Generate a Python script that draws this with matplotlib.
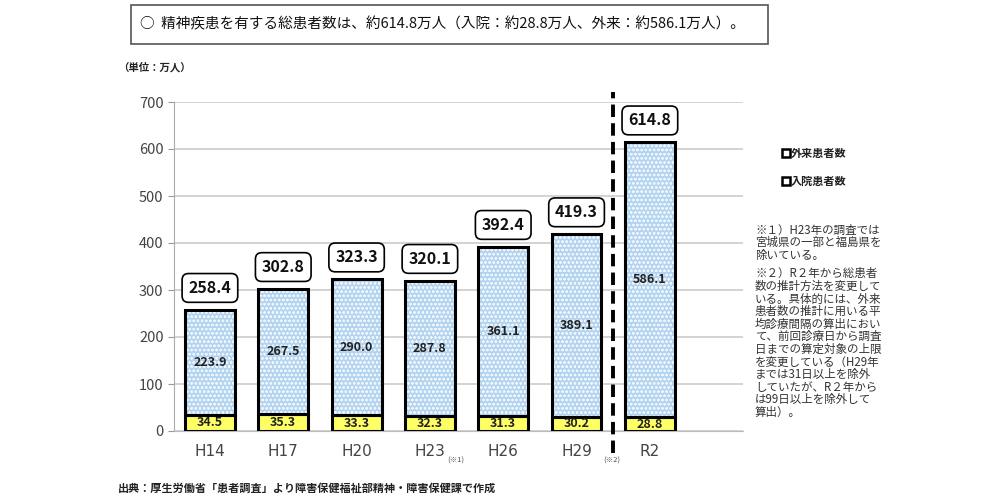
import numpy as np
import matplotlib
matplotlib.use('Agg')
from matplotlib import pyplot as plt
from matplotlib.patches import Rectangle

plt.rcParams['font.family'] = ['Noto Sans CJK JP', 'DejaVu Sans']
plt.rcParams['hatch.linewidth'] = 0.6

years = ['H14', 'H17', 'H20', 'H23', 'H26', 'H29', 'R2']
inpatient = [34.5, 35.3, 33.3, 32.3, 31.3, 30.2, 28.8]
outpatient = [223.9, 267.5, 290.0, 287.8, 361.1, 389.1, 586.1]
totals = [258.4, 302.8, 323.3, 320.1, 392.4, 419.3, 614.8]

title = '○  精神疾患を有する総患者数は、約614.8万人（入院：約28.8万人、外来：約586.1万人）。'
unit = '（単位：万人）'
source = '出典：厚生労働省「患者調査」より障害保健福祉部精神・障害保健課で作成'
notes = ['※１）H23年の調査では', '宮城県の一部と福島県を', '除いている。', '',
         '※２）R２年から総患者', '数の推計方法を変更して', 'いる。具体的には、外来',
         '患者数の推計に用いる平', '均診療間隔の算出におい', 'て、前回診療日から調査',
         '日までの算定対象の上限', 'を変更している（H29年', 'までは31日以上を除外',
         'していたが、R２年から', 'は99日以上を除外して', '算出）。']

x = np.arange(len(years), dtype=float)
w = 0.68

fig = plt.figure(figsize=(10, 5), dpi=100)
ax = fig.add_axes([0.174, 0.138, 0.569, 0.658])

# yellow inpatient part
ax.bar(x, inpatient, w, color='#ffff66', edgecolor='black', linewidth=2.2, zorder=3)
# patterned outpatient part
ax.bar(x, outpatient, w, bottom=inpatient, color='#b3d3ef', edgecolor='#eef6fd',
       hatch='oooo', linewidth=0, zorder=3)
ax.bar(x, outpatient, w, bottom=inpatient, fill=False, edgecolor='black',
       linewidth=2.2, zorder=4)

for xi, a, b, t in zip(x, inpatient, outpatient, totals):
    ax.text(xi, a / 2, f'{a:.1f}', ha='center', va='center', fontsize=9,
            fontweight='bold', color='#222222', zorder=5)
    ax.text(xi, a + b / 2, f'{b:.1f}', ha='center', va='center', fontsize=9,
            fontweight='bold', color='#222222', zorder=5)
    ax.text(xi, t + 46, f'{t:.1f}', ha='center', va='center', fontsize=11.5,
            fontweight='bold', color='#111111', zorder=5,
            bbox=dict(boxstyle='round,pad=0.4,rounding_size=0.4', fc='white',
                      ec='black', lw=1.2))

ax.set_xlim(-0.49, 7.27)
ax.set_ylim(0, 700)
ax.set_yticks(np.arange(0, 701, 100))
ax.set_xticks(x)
ax.set_xticklabels(years, fontfamily='DejaVu Sans', fontsize=11, color='#444444')
ax.tick_params(axis='y', labelsize=10.5, colors='#444444', length=4, color='#999999')
ax.tick_params(axis='x', length=0, pad=9)
ax.yaxis.grid(True, color='#cccccc', linewidth=1.2, zorder=0)
ax.set_axisbelow(True)
for s in ['top', 'right']:
    ax.spines[s].set_visible(False)
ax.spines['left'].set_color('#aaaaaa')
ax.spines['bottom'].set_color('#bbbbbb')

# dashed separator
ax.plot([5.5, 5.5], [-46, 722], color='black', linewidth=2.8, linestyle=(0, (3.2, 1.6)),
        clip_on=False, zorder=6)

fig.text(0.447, 0.078, '(※1)', fontsize=5.5, color='#555555', ha='left', va='center')
fig.text(0.603, 0.078, '(※2)', fontsize=5.5, color='#555555', ha='left', va='center')

# legend
for yy, lab in [(0.694, '外来患者数'), (0.638, '入院患者数')]:
    fig.lines.append(plt.Line2D([0.786], [yy], marker='s', markersize=5.5,
                                markerfacecolor='white', markeredgecolor='black',
                                markeredgewidth=1.8, transform=fig.transFigure))
    fig.text(0.791, yy, lab, fontsize=8, fontweight='bold', color='#222222',
             ha='left', va='center')

# notes
yy = 0.54
for line in notes:
    if line:
        fig.text(0.755, yy, line, fontsize=8.3, color='#333333', ha='left', va='center')
        yy -= 0.0252
    else:
        yy -= 0.012

# title box
fig.patches.append(Rectangle((0.131, 0.912), 0.637, 0.078, transform=fig.transFigure,
                             fill=False, edgecolor='#555555', linewidth=1.2))
fig.text(0.14, 0.951, title, fontsize=10.5, color='#111111', ha='left', va='center')
fig.text(0.118, 0.865, unit, fontsize=7.5, fontweight='bold', color='#222222',
         ha='left', va='center')
fig.text(0.118, 0.024, source, fontsize=8, fontweight='bold', color='#222222',
         ha='left', va='center')

fig.savefig('out.png', dpi=100)
plt.close()
